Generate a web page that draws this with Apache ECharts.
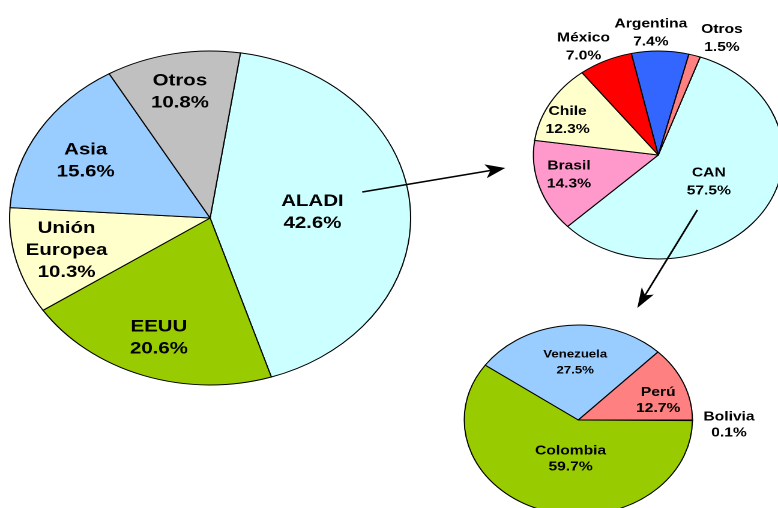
<!DOCTYPE html>
<html>
<head>
<meta charset="utf-8">
<script src="https://cdn.jsdelivr.net/npm/echarts@6/dist/echarts.min.js"></script>
<style>
  html, body { margin: 0; padding: 0; background: #fff; overflow: hidden; }
  /* the original picture is stretched sideways, so the pies are ellipses */
  #chart { width: 648px; height: 508px; transform: scaleX(1.2006); transform-origin: 0 0; }
</style>
</head>
<body>
<div id="chart"></div>
<script>
// exportaciones por destino (%)
var mainCategories = ['ALADI', 'EEUU', 'Unión Europea', 'Asia', 'Otros'];
var mainValues = [42.6, 20.6, 10.3, 15.6, 10.8];

// detalle ALADI (%)
var aladiCategories = ['CAN', 'Brasil', 'Chile', 'México', 'Argentina', 'Otros'];
var aladiValues = [57.5, 14.3, 12.3, 7.0, 7.4, 1.5];

// detalle CAN (%)
var canCategories = ['Bolivia', 'Colombia', 'Venezuela', 'Perú'];
var canValues = [0.1, 59.7, 27.5, 12.7];

var mainColors = ['#ccffff', '#99cc00', '#ffffcc', '#99ccff', '#c0c0c0'];
var aladiColors = ['#ccffff', '#ff99cc', '#ffffcc', '#ff0000', '#3366ff', '#ff8080'];
var canColors = ['#000000', '#99cc00', '#99ccff', '#ff8080'];

// desplazamiento de etiquetas respecto a la posición 'inside'
var labelShift = [
    [[-1, 1], [-14, 38], [-36, 10], [-30, -12], [-9, -41]],
    [[-4, -3], [-22, 3], [-28, -7], [-39, -58], [-7, -67], [37, -64]],
    [[75, 5], [9, -9], [2, -7], [20, 0]]
];

var font = '"Liberation Sans", Arial, sans-serif';

function toData(names, values, colors) {
    return names.map(function (n, i) {
        return { name: n, value: values[i], itemStyle: { color: colors[i] } };
    });
}

function pctLabel(p) {
    return p.name.replace(' ', '\n') + '\n' + p.value.toFixed(1) + '%';
}

function pieSeries(center, radius, startAngle, data, size, lh) {
    return {
        type: 'pie',
        center: center,
        radius: radius,
        startAngle: startAngle,
        clockwise: true,
        animation: false,
        silent: true,
        data: data,
        itemStyle: { borderColor: '#000', borderWidth: 1 },
        label: {
            show: true,
            position: 'inside',
            formatter: pctLabel,
            color: '#000',
            fontFamily: font,
            fontWeight: 'bold',
            fontSize: size,
            lineHeight: lh
        },
        labelLine: { show: false },
        labelLayout: function (params) {
            var s = labelShift[params.seriesIndex][params.dataIndex];
            return { dx: s[0], dy: s[1] };
        }
    };
}

var canSeries = pieSeries([481.7, 420], 95, 0, toData(canCategories, canValues, canColors), 13, 16);
canSeries.data[0].itemStyle.borderWidth = 1.5;
canSeries.data[2].label = { fontSize: 11, lineHeight: 16 };

var myChart = echarts.init(document.getElementById('chart'), null, { renderer: 'canvas', devicePixelRatio: 2 });

myChart.setOption({
    backgroundColor: '#fff',
    series: [
        pieSeries([175, 218], 167, 81.3, toData(mainCategories, mainValues, mainColors), 17, 22),
        pieSeries([548.3, 155], 104, 70.4, toData(aladiCategories, aladiValues, aladiColors), 13, 18),
        canSeries
    ],
    graphic: [
        // flecha ALADI -> detalle
        { type: 'polyline', z: 100, shape: { points: [[301.7, 192], [408.5, 170.5]] }, style: { stroke: '#000', lineWidth: 1.5, fill: null } },
        { type: 'polygon', z: 100, shape: { points: [[420.8, 168], [405.4, 178.2], [408.5, 170.5], [403.4, 164.4]] }, style: { fill: '#000' } },
        // flecha CAN -> detalle
        { type: 'polyline', z: 100, shape: { points: [[580.8, 210], [537.3, 295.2]] }, style: { stroke: '#000', lineWidth: 1.5, fill: null } },
        { type: 'polygon', z: 100, shape: { points: [[530.8, 308], [544.5, 294.6], [537.3, 295.2], [534.5, 287.2]] }, style: { fill: '#000' } }
    ]
});
</script>
</body>
</html>
